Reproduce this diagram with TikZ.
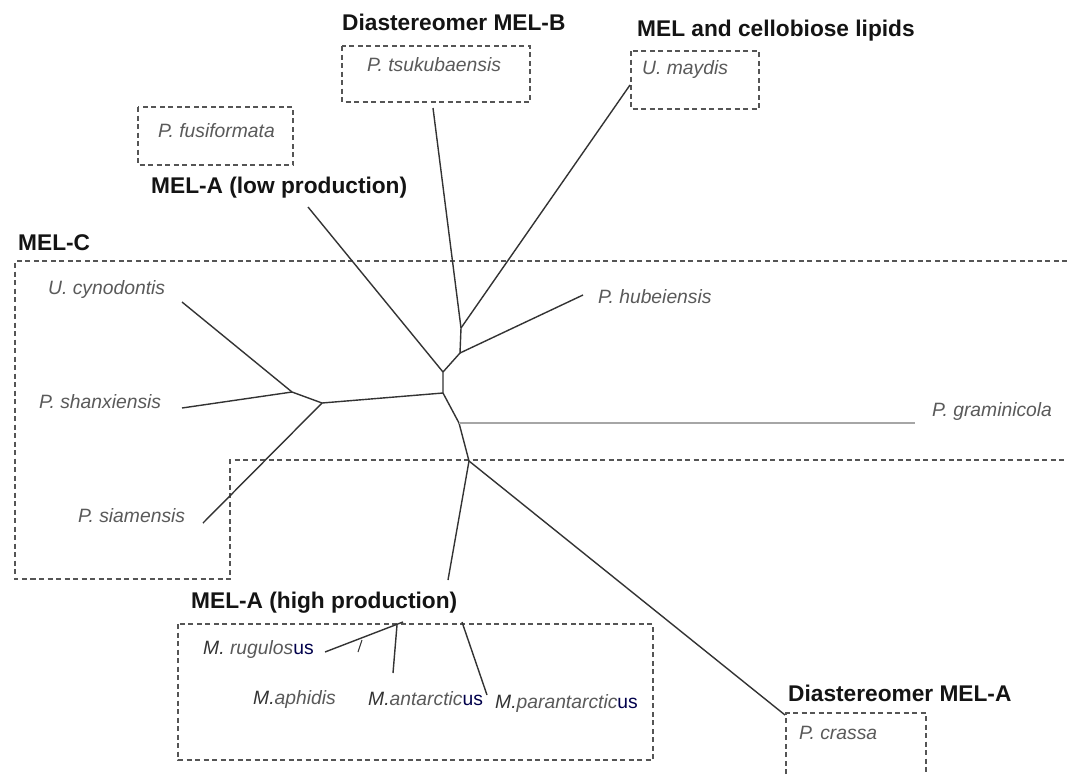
\documentclass[tikz,border=0pt]{standalone}
\usepackage{fontspec}
\setmainfont{Liberation Sans}
\usepackage{xcolor}
\usepackage{tikz}
\usetikzlibrary{positioning}
\definecolor{lblgray}{HTML}{5A5A5A}
\definecolor{brgray}{HTML}{333333}
\definecolor{boxgray}{HTML}{555555}

\begin{document}
\begin{tikzpicture}[x=1pt, y=-1pt,
  head/.style={anchor=west, inner sep=0pt, text=black!92,
               font=\fontsize{22.7}{26}\selectfont\bfseries},
  sp/.style={anchor=west, inner sep=0pt, text=lblgray,
             font=\fontsize{19.3}{23}\selectfont\itshape},
  br/.style={draw=brgray, line width=1.4pt},
  lbr/.style={draw=gray!70, line width=2.4pt},
  grp/.style={draw=boxgray, line width=1.4pt, dash pattern=on 5pt off 3.5pt}]
  \useasboundingbox (0,0) rectangle (1067,774);
  \fill[white] (0,0) rectangle (1067,774);

  \draw[grp] (138,107) rectangle (293,165);
  \draw[grp] (342,46) rectangle (530,102);
  \draw[grp] (631,51) rectangle (759,109);
  \draw[grp] (1067,261) -- (15,261) -- (15,579) -- (230,579) -- (230,460) -- (1067,460);
  \draw[grp] (178,624) rectangle (653,760);
  \draw[grp] (786,774) -- (786,713) -- (926,713) -- (926,774);

  \node[head] (hb)  at (342,22)  {Diastereomer MEL-B};
  \node[head] (hmc) at (637,31)  {MEL and cellobiose lipids};
  \node[head] (hlo) at (151,188) {MEL-A (low production)};
  \node[head] (hc)  at (18,243)  {MEL-C};
  \node[head] (hhi) at (191,603) {MEL-A (high production)};
  \node[head] (ha)  at (788,693) {Diastereomer MEL-A};

  \node[sp] (fus) at (158,131) {P. fusiformata};
  \node[sp] (tsu) at (367,65)  {P. tsukubaensis};
  \node[sp] (may) at (642,70)  {U. maydis};
  \node[sp] (cyn) at (48,290)  {U. cynodontis};
  \node[sp] (sha) at (39,402)  {P. shanxiensis};
  \node[sp] (sia) at (78,516)  {P. siamensis};
  \node[sp] (hub) at (598,297) {P. hubeiensis};
  \node[sp] (gra) at (932,412) {P. graminicola};
  \node[sp] (cra) at (799,733) {P. crassa};
  \node[sp] (rug) at (203,649) {\textcolor{black!80}{M.} rugulos\textup{\textcolor{blue!30!black}{us}}};
  \node[sp] (aph) at (253,699) {\textcolor{black!80}{M.}aphidis};
  \node[sp] (ant) at (368,699) {\textcolor{black!80}{M.}antarctic\textup{\textcolor{blue!30!black}{us}}};
  \node[sp] (par) at (495,703) {\textcolor{black!80}{M.}parantarctic\textup{\textcolor{blue!30!black}{us}}};

  \coordinate (ctr)  at (443,372);
  \coordinate (ctrb) at (443,393);
  \coordinate (nhub) at (460,353);
  \coordinate (nmay) at (461,328);
  \coordinate (nlft) at (322,403);
  \coordinate (nlfa) at (292,392);
  \coordinate (ngra) at (459,423);
  \coordinate (nbot) at (469,461);
  \coordinate (tlo)  at (308,207);
  \coordinate (ttsu) at (433,108);
  \coordinate (tmay) at (630,85);
  \coordinate (thub) at (583,295);
  \coordinate (tgra) at (915,423);
  \coordinate (tcyn) at (182,302);
  \coordinate (tsha) at (182,408);
  \coordinate (tsia) at (203,523);
  \coordinate (tcra) at (785,715);
  \coordinate (thi)  at (448,580);
  \coordinate (nm)   at (403,622);
  \coordinate (trug) at (325,652);
  \coordinate (mv)   at (397,625);
  \coordinate (tmv)  at (393,673);
  \coordinate (mk)   at (362,640);
  \coordinate (tmk)  at (358,652);
  \coordinate (mp)   at (462,622);
  \coordinate (tmp)  at (487,695);

  \draw[br] (tlo) -- (ctr) -- (ctrb) -- (ngra) -- (nbot);
  \draw[br] (ctr) -- (nhub) -- (nmay) -- (ttsu);
  \draw[br] (nmay) -- (tmay);
  \draw[br] (nhub) -- (thub);
  \draw[br] (ctrb) -- (nlft) -- (nlfa) -- (tcyn);
  \draw[br] (nlfa) -- (tsha);
  \draw[br] (nlft) -- (tsia);
  \draw[lbr] (ngra) -- (tgra);
  \draw[br] (nbot) -- (tcra);
  \draw[br] (nbot) -- (thi);
  \draw[br] (nm) -- (trug);
  \draw[br] (mv) -- (tmv);
  \draw[br, line width=1pt] (mk) -- (tmk);
  \draw[br] (mp) -- (tmp);
\end{tikzpicture}
\end{document}
